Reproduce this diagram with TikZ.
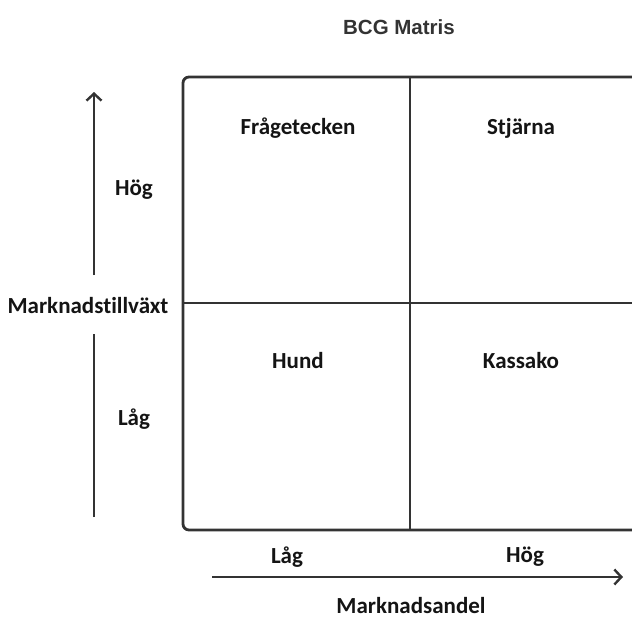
\documentclass[tikz,border=0pt]{standalone}
\usepackage{fontspec}
\setmainfont{Carlito}[Ligatures=NoCommon]
\newfontfamily\arialfont{Liberation Sans}
\usetikzlibrary{arrows.meta}
\definecolor{ink}{HTML}{333333}
\definecolor{txt}{HTML}{141414}
\begin{document}
\begin{tikzpicture}[x=1pt,y=-1pt,
  lbl/.style={font=\bfseries\fontsize{23}{26}\selectfont, text=txt, inner sep=0pt},
  frame/.style={draw=ink, line width=2.8pt},
  axis/.style={draw=ink, line width=2.8pt, -{Straight Barb[length=7pt,width=15pt,line width=2.4pt]}}]
\useasboundingbox (0,0) rectangle (632,619);
\fill[white] (0,0) rectangle (632,619);
% matrix frame
\draw[frame, rounded corners=6pt] (650,77) -- (183,77) -- (183,530) -- (650,530);
\coordinate (tm) at (410,77);
\coordinate (bm) at (410,530);
\coordinate (lm) at (183,303);
\coordinate (rm) at (650,303);
\draw[frame] (tm) -- (bm);
\draw[frame] (lm) -- (rm);
% title
\node[font=\arialfont\bfseries\fontsize{20.5}{24}\selectfont, text=ink, inner sep=0pt] (title) at (399,27) {BCG Matris};
% quadrant labels
\node[lbl] (q1) at (298,128) {Frågetecken};
\node[lbl] (q2) at (521,128) {Stjärna};
\node[lbl] (q3) at (298,361) {Hund};
\node[lbl] (q4) at (521,361) {Kassako};
% y axis
\node[lbl] (ylab) at (88,306) {Marknadstillväxt};
\node[lbl] (yhi) at (134,190) {Hög};
\node[lbl] (ylo) at (134,419) {Låg};
\coordinate (ybot) at (94,517);
\coordinate (ygap1) at (94,334);
\coordinate (ygap2) at (94,275);
\coordinate (ytop) at (94,92);
\draw[frame] (ybot) -- (ygap1);
\draw[axis] (ygap2) -- (ytop);
% x axis
\node[lbl] (xlo) at (287,557) {Låg};
\node[lbl] (xhi) at (525,557) {Hög};
\node[lbl] (xlab) at (411,606) {Marknadsandel};
\coordinate (xl) at (212,577);
\coordinate (xr) at (623,577);
\draw[axis] (xl) -- (xr);
\end{tikzpicture}
\end{document}
